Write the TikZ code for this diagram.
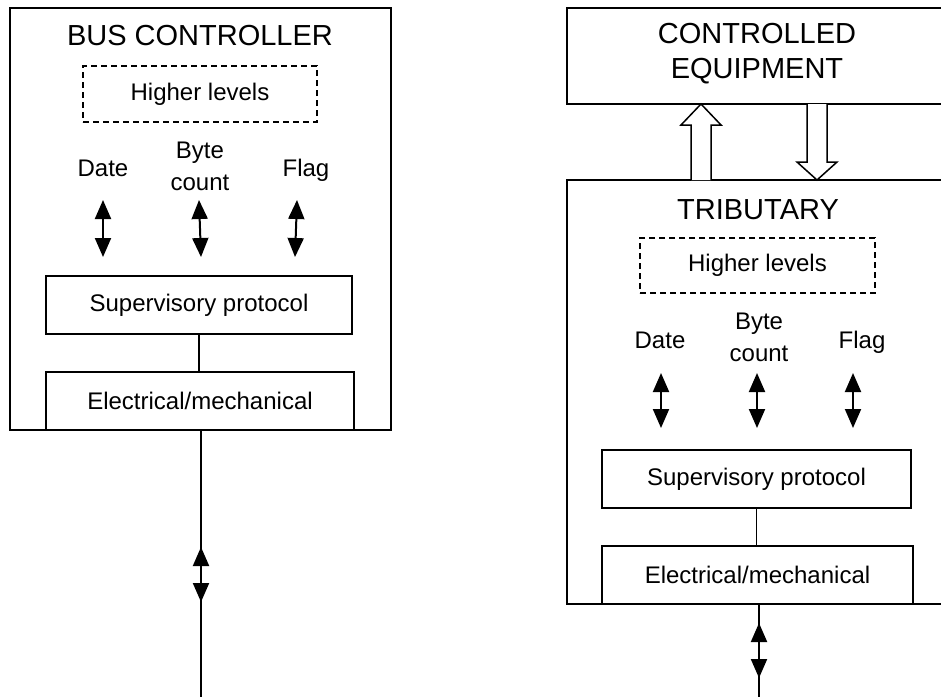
\documentclass[tikz,border=0pt]{standalone}
\usepackage{fontspec}
\setmainfont{Liberation Sans}
\usetikzlibrary{arrows.meta,calc}
\begin{document}
\begin{tikzpicture}[x=1pt,y=-1pt,
  box/.style={draw, line width=1.5pt, rectangle, inner sep=0pt},
  dbox/.style={box, dash pattern=on 6pt off 4pt},
  lbl/.style={font=\fontsize{24}{32}\selectfont, align=center, inner sep=0pt},
  ttl/.style={font=\fontsize{29}{35}\selectfont, align=center, inner sep=0pt},
  dbl/.style={{Triangle[length=19pt,width=16pt]}-{Triangle[length=19pt,width=16pt]}, line width=2pt},
  wire/.style={line width=1.6pt},
  hollow/.style={draw, line width=1.5pt, fill=white, line join=miter}]
\useasboundingbox (0,0) rectangle (941,697);
\clip (0,0) rectangle (941,697);
% ---------------- left: bus controller
\node[box, minimum width=381pt, minimum height=422pt] (bc) at (200.5,219) {};
\node[ttl] (bct) at (200,36) {BUS CONTROLLER};
\node[dbox, lbl, minimum width=234pt, minimum height=56pt] (hl1) at (200,94) {Higher levels};
\node[lbl] (d1) at (103,168) {Date};
\node[lbl] (b1) at (200,166) {Byte\\count};
\node[lbl] (f1) at (306,170) {Flag};
\node[box, lbl, minimum width=306pt, minimum height=58pt] (sp1) at (199,305) {Supervisory protocol};
\node[box, lbl, minimum width=308pt, minimum height=58pt] (em1) at (200,401) {Electrical/mechanical};
\coordinate (a1t) at (103,200); \coordinate (a1b) at (103,257);
\coordinate (a2t) at (199,200); \coordinate (a2b) at (201,257);
\coordinate (a3t) at (297,200); \coordinate (a3b) at (295,257);
\draw[dbl] (a1t) -- (a1b);
\draw[dbl] (a2t) -- (a2b);
\draw[dbl] (a3t) -- (a3b);
\draw[wire] (sp1.south) -- (em1.north -| sp1.south);
\coordinate (bus1top) at (201,430);
\coordinate (bus1bot) at (201,697);
\coordinate (bus1u) at (201,547);
\coordinate (bus1d) at (201,602);
\draw[wire] (bus1top) -- (bus1bot);
\draw[dbl] (bus1u) -- (bus1d);
% ---------------- right: controlled equipment
\node[box, minimum width=393pt, minimum height=96pt] (ce) at (763.5,56) {};
\node[ttl] (cet) at (757,53.5) {CONTROLLED\\EQUIPMENT};
\node[box, minimum width=393pt, minimum height=424pt] (tr) at (763.5,392) {};
\node[ttl] (trt) at (758,210) {TRIBUTARY};
% hollow arrows
\coordinate (upTip) at (701,104);
\coordinate (dnTip) at (817,180);
\draw[hollow] (691,180) -- (691,125) -- (681,125) -- (upTip) -- (721,125) -- (711,125) -- (711,180);
\draw[hollow] (807,104) -- (807,162) -- (797,162) -- (dnTip) -- (837,162) -- (827,162) -- (827,104);
\node[dbox, lbl, minimum width=235pt, minimum height=55pt] (hl2) at (757.5,265.5) {Higher levels};
\node[lbl] (d2) at (660,340) {Date};
\node[lbl] (b2) at (759,337.5) {Byte\\count};
\node[lbl] (f2) at (862,342) {Flag};
\node[box, lbl, minimum width=309pt, minimum height=58pt] (sp2) at (756.5,479) {Supervisory protocol};
\node[box, lbl, minimum width=311pt, minimum height=58pt] (em2) at (757.5,575) {Electrical/mechanical};
\coordinate (c1t) at (661,373); \coordinate (c1b) at (661,428);
\coordinate (c2t) at (757,373); \coordinate (c2b) at (757,428);
\coordinate (c3t) at (853,373); \coordinate (c3b) at (853,428);
\draw[dbl] (c1t) -- (c1b);
\draw[dbl] (c2t) -- (c2b);
\draw[dbl] (c3t) -- (c3b);
\draw[wire] (sp2.south) -- (em2.north -| sp2.south);
\coordinate (bus2top) at (759,604);
\coordinate (bus2bot) at (759,697);
\coordinate (bus2u) at (759,623);
\coordinate (bus2d) at (759,678);
\draw[wire] (bus2top) -- (bus2bot);
\draw[dbl] (bus2u) -- (bus2d);
\end{tikzpicture}
\end{document}
